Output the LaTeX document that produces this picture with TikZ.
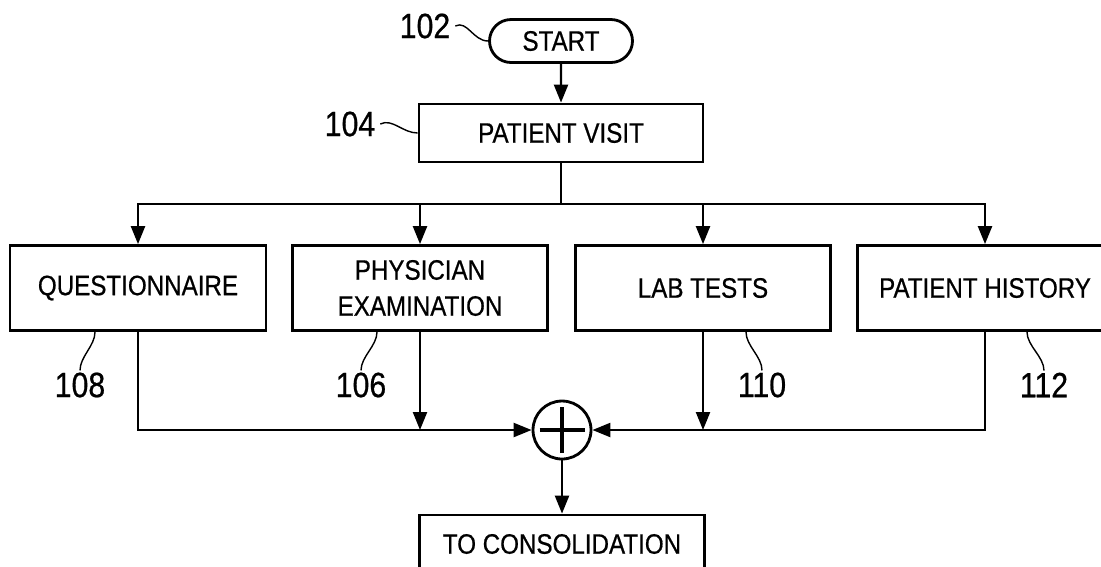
\documentclass[tikz,border=0pt]{standalone}
\usepackage{fontspec}
\setmainfont[FakeStretch=0.86,FakeBold=0.6]{Liberation Sans}
\usetikzlibrary{arrows.meta,shapes.misc}
\tikzset{
  box/.style={draw,line width=1.6pt,align=center,inner sep=0pt,font=\fontsize{16}{20.5}\selectfont},
  refnum/.style={inner sep=1pt,font=\fontsize{20}{24}\selectfont},
  flow/.style={line width=1.3pt,-{Triangle[length=0.36cm,width=0.28cm]}},
  lead/.style={line width=0.8pt}
}
\begin{document}
\begin{tikzpicture}[x=0.02cm,y=-0.02cm]
    \useasboundingbox (0,0) rectangle (1101,566);
    % start and visit
    \node[box,rounded rectangle,minimum width=2.86cm,minimum height=0.86cm] (start) at (561,41) {START};
    \node[box,minimum width=5.68cm,minimum height=1.16cm] (visit) at (561,133) {PATIENT VISIT};
    \coordinate (br) at (561,204);
    % sources
    \node[box,minimum width=5.12cm,minimum height=1.7cm] (quest) at (138,288) {QUESTIONNAIRE};
    \node[box,minimum width=5.1cm,minimum height=1.7cm] (phys) at (420,288) {PHYSICIAN\\EXAMINATION};
    \node[box,minimum width=5.1cm,minimum height=1.7cm] (lab) at (703,288) {LAB TESTS};
    \node[box,minimum width=5.1cm,minimum height=1.7cm] (hist) at (985,288) {PATIENT HISTORY};
    % junction and output
    \node[draw,circle,line width=1.6pt,minimum size=1.16cm,inner sep=0pt] (sum) at (562,430) {};
    \draw[line width=2.8pt] ([xshift=-0.45cm]sum.center) -- ([xshift=0.45cm]sum.center);
    \draw[line width=2.8pt] ([yshift=-0.46cm]sum.center) -- ([yshift=0.46cm]sum.center);
    \node[box,minimum width=5.7cm,minimum height=1.16cm] (cons) at (562,544) {TO CONSOLIDATION};
    % reference numerals
    \node[refnum] (n102) at (425,26) {102};
    \node[refnum] (n104) at (350,124) {104};
    \node[refnum] (n108) at (80,385) {108};
    \node[refnum] (n106) at (361,385) {106};
    \node[refnum] (n110) at (762,385) {110};
    \node[refnum] (n112) at (1044,385) {112};
    \draw[lead] ([xshift=0.06cm]n102.east) .. controls +(12,-6) and +(-15,0) .. (start.west);
    \draw[lead] ([xshift=0.06cm]n104.east) .. controls +(12,-6) and +(-15,0) .. (visit.west);
    \draw[lead] (n108.north) .. controls +(0,-14) and +(0,14) .. ([xshift=-0.86cm]quest.south);
    \draw[lead] (n106.north) .. controls +(0,-14) and +(0,14) .. ([xshift=-0.86cm]phys.south);
    \draw[lead] (n110.north) .. controls +(0,-14) and +(0,14) .. ([xshift=0.86cm]lab.south);
    \draw[lead] (n112.north) .. controls +(0,-14) and +(0,14) .. ([xshift=0.84cm]hist.south);
    % connectors
    \draw[flow] (start) -- (visit);
    \draw[line width=1.3pt] (visit) -- (br);
    \draw[flow] (br) -| (quest);
    \draw[flow] (br) -| (phys);
    \draw[flow] (br) -| (lab);
    \draw[flow] (br) -| (hist);
    \draw[flow] (quest) |- (sum);
    \draw[flow] (hist) |- (sum);
    \draw[flow] (phys) -- (phys |- sum);
    \draw[flow] (lab) -- (lab |- sum);
    \draw[flow] (sum) -- (cons);
\end{tikzpicture}
\end{document}
